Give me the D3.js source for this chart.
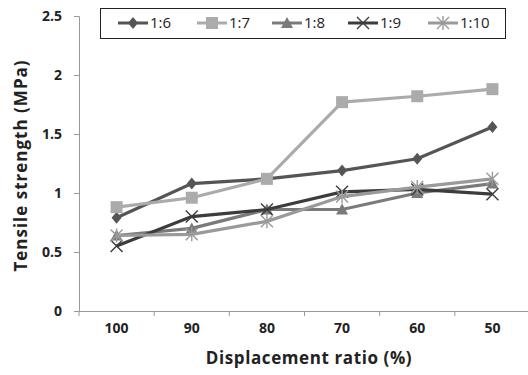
<!DOCTYPE html>
<html>
<head>
<meta charset="utf-8">
<script src="https://cdn.jsdelivr.net/npm/d3@7"></script>
<style>
  body { margin: 0; background: #fff; }
  text { font-family: "Open Sans", "Noto Sans", sans-serif; }
</style>
</head>
<body>
<div id="wrapper"></div>
<script>
const categories = ["100", "90", "80", "70", "60", "50"];
const seriesNames = ["1:6", "1:7", "1:8", "1:9", "1:10"];
const s16 = [0.79, 1.08, 1.12, 1.19, 1.29, 1.56];
const s17 = [0.88, 0.96, 1.12, 1.77, 1.82, 1.88];
const s18 = [0.64, 0.70, 0.86, 0.86, 1.00, 1.08];
const s19 = [0.55, 0.80, 0.86, 1.01, 1.03, 0.99];
const s110 = [0.64, 0.65, 0.76, 0.97, 1.05, 1.12];
const yTicks = [0, 0.5, 1, 1.5, 2, 2.5];

const seriesValues = [s16, s17, s18, s19, s110];
const colors = ["#555555", "#ababab", "#7a7a7a", "#3c3c3c", "#9a9a9a"];
const markers = ["diamond", "square", "triangle", "x", "star"];

const width = 528;
const height = 375;
const margin = { top: 16, right: -2, bottom: 64, left: 79 };

const svg = d3
  .select("#wrapper")
  .append("svg")
  .attr("width", width)
  .attr("height", height);

const x = d3
  .scaleBand()
  .domain(categories)
  .range([margin.left, width - margin.right]);

const y = d3
  .scaleLinear()
  .domain([0, 2.5])
  .range([height - margin.bottom, margin.top]);

// y axis
const yAxis = svg
  .append("g")
  .attr("transform", `translate(${margin.left},0)`)
  .call(d3.axisLeft(y).tickValues(yTicks).tickSize(5).tickFormat(d3.format("")));
yAxis.select(".domain").attr("stroke", "#999");
yAxis.selectAll(".tick line").attr("stroke", "#999");
yAxis
  .selectAll(".tick text")
  .attr("x", -17)
  .attr("font-size", 14)
  .attr("font-weight", "bold")
  .attr("fill", "#222");

// x axis
const xAxis = svg
  .append("g")
  .attr("transform", `translate(0,${y(0)})`)
  .call(d3.axisBottom(x).tickSize(0).tickPadding(12));
xAxis.select(".domain").attr("stroke", "#999");
xAxis
  .selectAll(".tick text")
  .attr("font-size", 14)
  .attr("font-weight", "bold")
  .attr("fill", "#222");
// tick marks between categories
svg
  .append("g")
  .selectAll("line")
  .data(categories)
  .join("line")
  .attr("x1", (d) => x(d))
  .attr("x2", (d) => x(d))
  .attr("y1", y(0))
  .attr("y2", y(0) + 5)
  .attr("stroke", "#999");

// axis titles
svg
  .append("text")
  .attr("transform", `translate(27,${(y(0) + y(2.5)) / 2 + 2}) rotate(-90)`)
  .attr("text-anchor", "middle")
  .attr("font-size", 17)
  .attr("letter-spacing", 1)
  .attr("font-weight", "bold")
  .attr("fill", "#222")
  .text("Tensile strength (MPa)");

svg
  .append("text")
  .attr("x", 309)
  .attr("y", 364)
  .attr("text-anchor", "middle")
  .attr("font-size", 17)
  .attr("letter-spacing", 0.6)
  .attr("font-weight", "bold")
  .attr("fill", "#222")
  .text("Displacement ratio (%)");

function drawMarker(g, type, color) {
  if (type === "diamond") {
    g.append("path").attr("d", "M0,-6L5,0L0,6L-5,0Z").attr("fill", color);
  } else if (type === "square") {
    g.append("rect").attr("x", -6).attr("y", -6).attr("width", 12).attr("height", 12).attr("fill", color);
  } else if (type === "triangle") {
    g.append("path").attr("d", "M0,-6L6,5L-6,5Z").attr("fill", color);
  } else if (type === "x") {
    g.append("path").attr("d", "M-6,-6L6,6M-6,6L6,-6").attr("stroke", color).attr("stroke-width", 1.4);
  } else {
    g.append("path")
      .attr("d", "M-6,-6L6,6M-6,6L6,-6M0,-7L0,7")
      .attr("stroke", color)
      .attr("stroke-width", 1.4);
  }
}

const line = d3
  .line()
  .x((d, i) => x(categories[i]) + x.bandwidth() / 2)
  .y((d) => y(d));

seriesValues.forEach((vals, k) => {
  const g = svg.append("g");
  g.append("path")
    .attr("d", line(vals))
    .attr("fill", "none")
    .attr("stroke", colors[k])
    .attr("stroke-width", 3.2);
  vals.forEach((v, i) => {
    const m = g
      .append("g")
      .attr("transform", `translate(${x(categories[i]) + x.bandwidth() / 2},${y(v)})`);
    drawMarker(m, markers[k], colors[k]);
  });
});

// legend
const legend = svg.append("g");
legend
  .append("rect")
  .attr("x", 100.5)
  .attr("y", 8.5)
  .attr("width", 405)
  .attr("height", 30)
  .attr("fill", "#fff")
  .attr("stroke", "#222")
  .attr("stroke-width", 1);

const legendX = [118, 197, 272, 348, 428];
seriesNames.forEach((name, k) => {
  const lg = legend.append("g").attr("transform", `translate(${legendX[k]},23)`);
  lg.append("line")
    .attr("x1", 0)
    .attr("x2", 30)
    .attr("stroke", colors[k])
    .attr("stroke-width", 3);
  const m = lg.append("g").attr("transform", "translate(15,0)");
  drawMarker(m, markers[k], colors[k]);
  lg.append("text")
    .attr("x", 32)
    .attr("dy", "0.35em")
    .attr("font-size", 15)
    .attr("fill", "#222")
    .text(name);
});
</script>
</body>
</html>
